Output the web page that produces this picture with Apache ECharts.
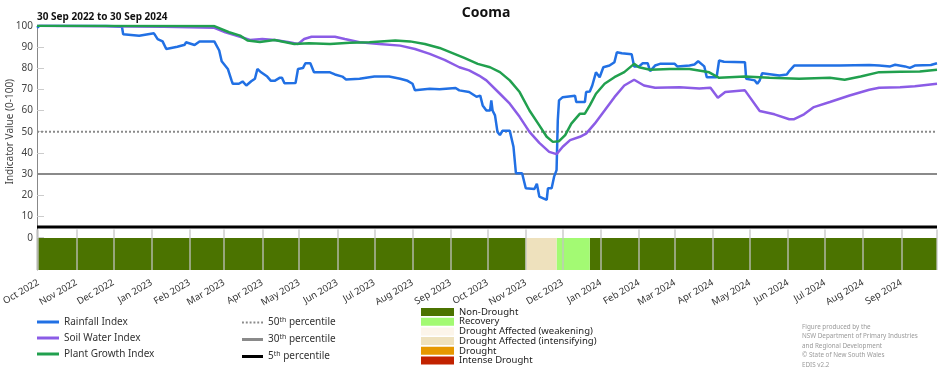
<!DOCTYPE html>
<html><head><meta charset="utf-8">
<script src="https://cdn.jsdelivr.net/npm/echarts@6/dist/echarts.min.js"></script>
<style>html,body{margin:0;padding:0;background:#fff}#c{width:952px;height:370px}</style>
</head><body><div id="c"></div>
<script>
const MONTHS = ['Jan','Feb','Mar','Apr','May','Jun','Jul','Aug','Sep','Oct','Nov','Dec'];
const periodStart = '2022-09-30';
const periodEnd = '2024-09-30';
const titleText = 'Cooma';
const periodText = '30 Sep 2022 to 30 Sep 2024';
const yTickValues = [0,10,20,30,40,50,60,70,80,90,100];

const rainfall = [['2022-09-30',99],['2022-10-02',100],['2022-11-25',100],['2022-11-26',99.5],['2022-12-08',99.5],['2022-12-09',96],['2022-12-22',95.3],['2023-01-03',96.4],['2023-01-06',93.7],['2023-01-10',92.6],['2023-01-13',89],['2023-01-22',90.1],['2023-01-28',91],['2023-01-29',92.2],['2023-02-05',90.9],['2023-02-09',92.6],['2023-02-21',92.6],['2023-02-25',88.3],['2023-02-27',83.2],['2023-03-04',79.6],['2023-03-07',74.2],['2023-03-08',72.6],['2023-03-13',72.6],['2023-03-16',73.7],['2023-03-19',71.8],['2023-03-23',73.8],['2023-03-26',75],['2023-03-28',79.6],['2023-03-31',78],['2023-04-05',76],['2023-04-08',74],['2023-04-11',74],['2023-04-15',75.4],['2023-04-17',75.4],['2023-04-19',72.9],['2023-04-28',73],['2023-04-30',79.6],['2023-05-04',80],['2023-05-06',82.3],['2023-05-10',82.3],['2023-05-13',78],['2023-05-26',78],['2023-05-27',78.9],['2023-05-30',77],['2023-06-05',76],['2023-06-08',74.6],['2023-06-19',75],['2023-07-01',76],['2023-07-13',76],['2023-07-22',75],['2023-07-28',74],['2023-08-01',72.6],['2023-08-03',69.5],['2023-08-15',70.3],['2023-08-23',70],['2023-09-05',70.6],['2023-09-08',69.5],['2023-09-16',68.7],['2023-09-22',66.5],['2023-09-25',67],['2023-09-27',62.4],['2023-09-30',60],['2023-10-03',60],['2023-10-04',64.8],['2023-10-05',60],['2023-10-07',57.7],['2023-10-09',49.9],['2023-10-11',48.4],['2023-10-13',50.4],['2023-10-19',50.4],['2023-10-22',42.9],['2023-10-24',30.4],['2023-10-29',30.4],['2023-11-01',23.3],['2023-11-08',23],['2023-11-10',25.4],['2023-11-11',25],['2023-11-12',19.4],['2023-11-18',17.8],['2023-11-19',23.3],['2023-11-22',23.3],['2023-11-24',28.8],['2023-11-26',31.9],['2023-11-27',55.4],['2023-11-28',64.8],['2023-12-01',66.3],['2023-12-11',67],['2023-12-12',64],['2023-12-19',64],['2023-12-20',68.7],['2023-12-23',69],['2023-12-25',71.8],['2023-12-28',78],['2023-12-31',75.7],['2024-01-03',80.4],['2024-01-08',81.2],['2024-01-12',82.8],['2024-01-14',87.5],['2024-01-18',87],['2024-01-26',86.5],['2024-01-28',80.8],['2024-02-01',80.8],['2024-02-04',82.3],['2024-02-08',82.3],['2024-02-10',78.6],['2024-02-14',81.2],['2024-02-18',82],['2024-03-01',82],['2024-03-03',80.8],['2024-03-13',81.2],['2024-03-17',81.7],['2024-03-20',83.2],['2024-03-25',80.8],['2024-03-27',75.7],['2024-04-04',75.7],['2024-04-06',83.6],['2024-04-10',83],['2024-04-27',82.8],['2024-04-28',75],['2024-05-05',74.2],['2024-05-07',72.6],['2024-05-09',74.2],['2024-05-11',77.6],['2024-05-25',76.5],['2024-05-31',77],['2024-06-02',78.6],['2024-06-06',81.2],['2024-07-13',81.2],['2024-08-06',81.5],['2024-08-14',81.2],['2024-08-23',80.8],['2024-08-27',81.6],['2024-09-04',80.8],['2024-09-08',80.1],['2024-09-12',81.2],['2024-09-25',81.5],['2024-09-26',82.3],['2024-09-30',82.3]];

const soilWater = [['2022-09-30',100],['2023-01-11',99.5],['2023-02-21',99],['2023-03-02',96.9],['2023-03-14',94.8],['2023-03-22',93.3],['2023-04-01',93.7],['2023-04-11',93.3],['2023-04-23',92.2],['2023-04-30',91.4],['2023-05-05',93.7],['2023-05-11',94.8],['2023-05-30',94.8],['2023-06-07',93.7],['2023-06-19',92.2],['2023-07-05',91.4],['2023-07-22',90.6],['2023-08-03',89],['2023-08-15',86.7],['2023-08-27',83.9],['2023-09-08',80.4],['2023-09-16',78.9],['2023-09-24',76.5],['2023-09-30',74.2],['2023-10-11',67.9],['2023-10-19',63.2],['2023-10-27',57],['2023-11-04',49.9],['2023-11-12',44.7],['2023-11-20',40.5],['2023-11-26',39.4],['2023-12-01',42.9],['2023-12-07',46],['2023-12-15',47.6],['2023-12-20',49.1],['2023-12-27',53.8],['2024-01-04',60],['2024-01-12',66.3],['2024-01-20',71.8],['2024-01-28',74.5],['2024-02-05',71.8],['2024-02-14',70.7],['2024-03-05',71],['2024-03-21',70.4],['2024-03-30',70.7],['2024-04-05',66],['2024-04-11',68.7],['2024-04-27',69.5],['2024-05-09',59.8],['2024-05-21',58.2],['2024-06-02',55.9],['2024-06-06',55.9],['2024-06-14',58.2],['2024-06-22',61.6],['2024-07-05',64],['2024-07-21',67.1],['2024-08-06',69.8],['2024-08-14',70.7],['2024-08-31',71],['2024-09-12',71.4],['2024-09-30',72.6]];

const plantGrowth = [['2022-09-30',100],['2023-02-21',99.8],['2023-03-05',96.9],['2023-03-14',95.3],['2023-03-20',93],['2023-03-30',92.3],['2023-04-11',93.3],['2023-04-27',91.4],['2023-05-09',91.7],['2023-05-26',91.4],['2023-06-11',92],['2023-06-27',92.2],['2023-07-18',93],['2023-07-30',92.6],['2023-08-11',91.4],['2023-08-23',89.5],['2023-09-04',86.7],['2023-09-12',84.8],['2023-09-23',82],['2023-10-03',80.4],['2023-10-11',78.1],['2023-10-19',74.2],['2023-10-27',68.7],['2023-11-04',60],['2023-11-12',53],['2023-11-18',47.6],['2023-11-23',45.2],['2023-11-28',45.5],['2023-12-03',48.4],['2023-12-08',53.8],['2023-12-15',58.5],['2023-12-19',58.5],['2023-12-23',62.4],['2023-12-28',67.9],['2024-01-04',72.6],['2024-01-12',75.7],['2024-01-20',78.1],['2024-01-28',82],['2024-02-01',80.4],['2024-02-10',79.2],['2024-02-26',79.6],['2024-03-13',79.6],['2024-03-23',78.6],['2024-03-29',78],['2024-04-06',75.4],['2024-04-27',76],['2024-05-17',75.4],['2024-06-10',75],['2024-07-05',75.4],['2024-07-17',74.5],['2024-07-30',76],['2024-08-14',78.1],['2024-08-31',78.3],['2024-09-16',78.4],['2024-09-30',79.2]];

const percentiles = [['50th percentile',50],['30th percentile',30],['5th percentile',5]];

const bandNonDrought = [['2022-09-30','2023-11-01'],['2023-12-23','2024-09-30']];
const bandRecovery = [['2023-11-26','2023-12-23']];
const bandWeakening = [];
const bandIntensifying = [['2023-11-01','2023-11-26']];
const bandDrought = [];
const bandIntense = [];
const creditLines = ['Figure produced by the','NSW Department of Primary Industries','and Regional Development','\u00a9 State of New South Wales','EDIS v2.2'];

const FONT = 'Noto Sans';
const chart = echarts.init(document.getElementById('c'));

function bandSeries(name, data, color){
  return {
    type:'custom', name, xAxisIndex:1, yAxisIndex:1, data, silent:true, z:2,
    itemStyle:{color},
    dimensions:[{name:'s',type:'time'},{name:'e',type:'time'}],
    encode:{x:[0,1]},
    renderItem(params, api){
      const a = api.coord([api.value(0), 0]);
      const b = api.coord([api.value(1), -15]);
      return {type:'rect', shape:{x:a[0], y:a[1], width:b[0]-a[0], height:b[1]-a[1]}, style:{fill: api.visual('color')}};
    }
  };
}
function lineSeries(name, data, color){
  return {type:'line', name, data, xAxisIndex:0, yAxisIndex:0, symbol:'none', showSymbol:false,
    lineStyle:{width:2.5, color}, itemStyle:{color}, z:3};
}
const pctStyles = [
  {color:'#8a8a8a', width:2, type:[2,2]},
  {color:'#8a8a8a', width:2, type:'solid'},
  {color:'#000', width:3, type:'solid'}
];
const pctIcons = [
  'path://M0,0h2v2h-2zM4,0h2v2h-2zM8,0h2v2h-2zM12,0h2v2h-2zM16,0h2v2h-2zM20,0h2v2h-2z',
  'rect',
  'rect'
];
const pctSeries = percentiles.map((p,i)=>({
  type:'line', name:p[0], xAxisIndex:0, yAxisIndex:0, symbol:'none', showSymbol:false, z:2,
  data:[[periodStart,p[1]],[periodEnd,p[1]]],
  lineStyle:pctStyles[i], itemStyle:{color:pctStyles[i].color}
}));

const option = {
  animation:false,
  textStyle:{fontFamily:FONT},
  title:[
    {text:titleText, left:486, top:6, textAlign:'center', padding:0, textStyle:{fontSize:14, fontWeight:'bold', color:'#111', fontFamily:FONT}},
    {text:periodText, left:37, top:12, padding:0, textStyle:{fontSize:10, fontWeight:'bold', color:'#111', fontFamily:FONT}}
  ],
  grid:[
    {left:37, right:15, top:25.7, height:212, containLabel:false, outerBoundsMode:'none'},
    {left:37, right:15, top:229.5, height:40.5, containLabel:false, outerBoundsMode:'none'}
  ],
  xAxis:[
    {type:'time', gridIndex:0, min:periodStart, max:periodEnd, show:false},
    {type:'time', gridIndex:1, min:periodStart, max:periodEnd, z:10,
     splitNumber:24, maxInterval:31*86400000, minInterval:28*86400000,
     axisLine:{show:false}, axisTick:{show:false},
     splitLine:{show:true, lineStyle:{color:'rgba(195,195,195,0.85)', width:1.5}},
     axisLabel:{rotate:30, fontSize:9.5, color:'#333', margin:12, fontFamily:FONT,
       showMinLabel:false, showMaxLabel:false,
       formatter:(v)=>{const d=new Date(v); return MONTHS[d.getMonth()]+' '+d.getFullYear();}}}
  ],
  yAxis:[
    {type:'value', gridIndex:0, min:0, max:100, interval:10,
     name:'Indicator Value (0-100)', nameLocation:'middle', nameGap:22, nameMoveOverlap:false,
     nameTextStyle:{fontSize:10, color:'#444', fontFamily:FONT},
     axisLine:{show:true, lineStyle:{color:'#888'}},
     axisTick:{show:true, inside:true, length:7, lineStyle:{color:'#ccc'}},
     splitLine:{show:false},
     axisLabel:{fontSize:10, color:'#444', margin:4, fontFamily:FONT,
       formatter:(v)=> yTickValues.includes(v) ? String(v) : ''}},
    {type:'value', gridIndex:1, min:-15, max:4,
     axisLine:{show:true, lineStyle:{color:'#888'}},
     axisTick:{show:false}, axisLabel:{show:false}, splitLine:{show:false}}
  ],
  legend:[
    {data:['Rainfall Index','Soil Water Index','Plant Growth Index'].map(n=>({name:n, icon:'rect'})),
     orient:'vertical', left:37, top:316, padding:0,
     itemWidth:22, itemHeight:3, itemGap:4, selectedMode:false,
     textStyle:{fontSize:10, color:'#333', fontFamily:FONT, lineHeight:12}},
    {data:percentiles.map((p,i)=>({name:p[0], icon:pctIcons[i]})), orient:'vertical', left:242, top:316, padding:0,
     itemWidth:21, itemHeight:3, itemGap:5.5, selectedMode:false,
     formatter:(name)=>{const m=name.match(/^(\d+)(th)(.*)$/); return '{n|'+m[1]+'}{s|'+m[2]+'}{n|'+m[3]+'}';},
     textStyle:{fontSize:10, color:'#333', fontFamily:FONT,
       rich:{n:{fontSize:10, color:'#333', fontFamily:FONT, lineHeight:13},
             s:{fontSize:7, color:'#333', fontFamily:FONT, verticalAlign:'top', lineHeight:7}}}},
    {data:['Non-Drought','Recovery','Drought Affected (weakening)','Drought Affected (intensifying)','Drought','Intense Drought'],
     orient:'vertical', left:421, top:307, height:80, padding:0, icon:'rect', itemWidth:33, itemHeight:8, itemGap:-0.3, selectedMode:false,
     textStyle:{fontSize:9.5, color:'#222', fontFamily:FONT, lineHeight:9.7}}
  ],
  graphic:[
    {type:'text', left:802, top:322, silent:true,
     style:{text:creditLines.join('\n'), fontSize:6.3, lineHeight:9.6, fill:'#9a9a9a', fontFamily:FONT}}
  ],
  series:[
    ...pctSeries,
    lineSeries('Rainfall Index', rainfall, '#2170e4'),
    lineSeries('Soil Water Index', soilWater, '#8b5ce6'),
    lineSeries('Plant Growth Index', plantGrowth, '#21a04e'),
    bandSeries('Non-Drought', bandNonDrought, '#4b7300'),
    bandSeries('Recovery', bandRecovery, '#a3fa73'),
    bandSeries('Drought Affected (weakening)', bandWeakening, '#fcf5ea'),
    bandSeries('Drought Affected (intensifying)', bandIntensifying, '#eee1bd'),
    bandSeries('Drought', bandDrought, '#e69800'),
    bandSeries('Intense Drought', bandIntense, '#c22200')
  ]
};
chart.setOption(option);
</script></body></html>
